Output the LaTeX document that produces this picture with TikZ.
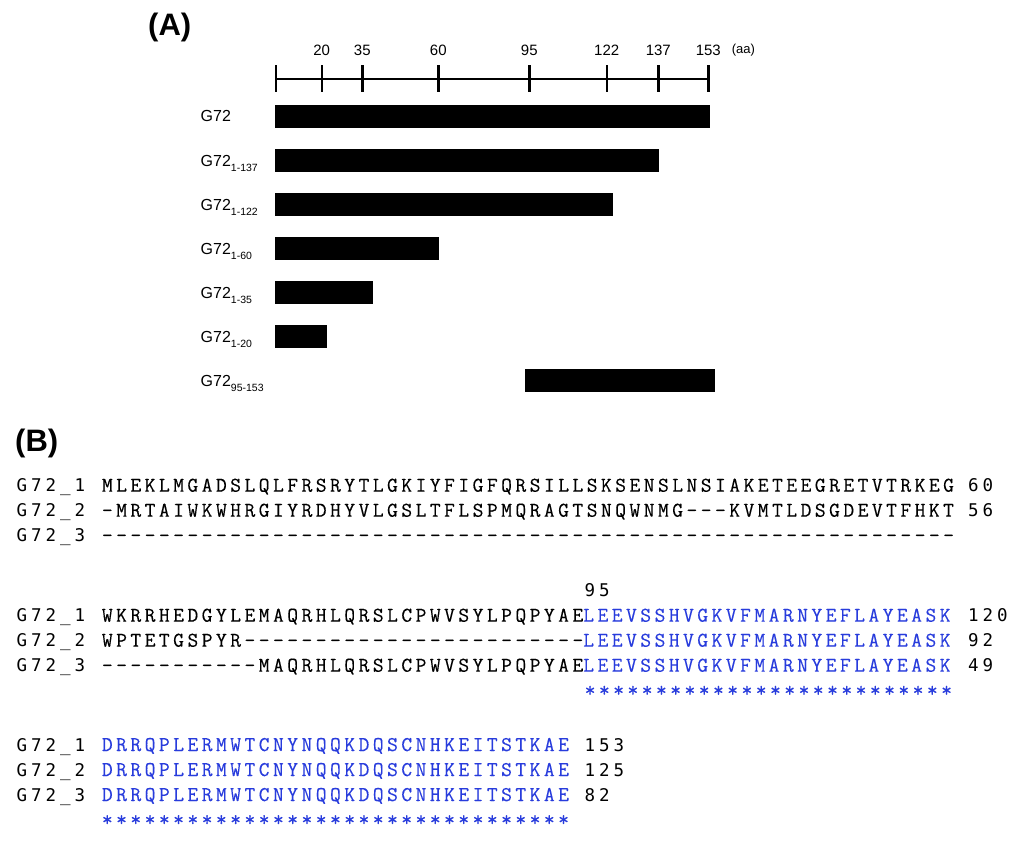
\documentclass[tikz,border=0pt]{standalone}
\usepackage{fontspec}
\setmainfont{Liberation Sans}
\newfontfamily\seqfont[Ligatures=TeXOff,LetterSpace=16.4,FakeBold=0.25]{Latin Modern Mono}
\newfontfamily\tagfont[Ligatures=TeXOff,LetterSpace=22.7]{DejaVu Sans Mono}
\definecolor{seqblue}{RGB}{40,60,220}

\begin{document}
\begin{tikzpicture}[x=1pt,y=-1pt,
    every node/.style={inner sep=0pt,anchor=base west},
    panel/.style={font=\fontsize{31}{31}\selectfont\bfseries},
    ticklabel/.style={anchor=base,font=\fontsize{15}{15}\selectfont},
    barlabel/.style={font=\fontsize{16}{16}\selectfont},
    seq/.style={font=\fontsize{21}{21}\seqfont},
    tag/.style={font=\fontsize{17.5}{17.5}\tagfont},
    cons/.style={text=seqblue},
    axis/.style={line width=2.7pt},
    tickmark/.style={line width=2.4pt}]
  \useasboundingbox (0,0) rectangle (1024,846);

  % (A) domain map
  \node[panel] (A) at (148,35.5) {(A)};
  \draw[axis] (275.7,79) -- (708.3,79);
  \draw[tickmark] (275.7,65) -- (275.7,92);
  \foreach \x/\n in {321.7/20, 362.3/35, 438.3/60, 529.3/95, 606.7/122, 658.3/137, 708.3/153}{
    \draw[tickmark] (\x,65) -- (\x,92);
    \node[ticklabel] (t\n) at (\x,55) {\n};
  }
  \node[font=\fontsize{13}{13}\selectfont] (unit) at (731.7,53) {(aa)};

  \foreach \y/\e/\s [count=\i] in {116/710/{}, 160.5/659/{1-137}, 204.5/613/{1-122},
      248.7/439/{1-60}, 292.5/373/{1-35}, 336.5/327/{1-20}}{
    \fill (275,\y-11.5) rectangle (\e,\y+11.5);
    \node[barlabel] (g\i) at (200.5,\y+5.8) {G72\raisebox{-5pt}{\fontsize{10.5}{10.5}\selectfont\s}};
  }
  \fill (525,369) rectangle (715,392);
  \node[barlabel] (g7) at (200.5,386.3) {G72\raisebox{-5pt}{\fontsize{10.5}{10.5}\selectfont 95-153}};

  % (B) alignment
  \node[panel] (B) at (15,451.8) {(B)};

  \foreach \y in {491.7, 621.7, 751}{
    \node[tag] at (16.5,\y) {G72\_1};
    \node[tag] at (16.5,\y+25) {G72\_2};
    \node[tag] at (16.5,\y+50) {G72\_3};
  }

  \node[seq] (s11) at (101.7,491.7) {MLEKLMGADSLQLFRSRYTLGKIYFIGFQRSILLSKSENSLNSIAKETEEGRETVTRKEG};
  \node[seq] (s12) at (101.7,516.7) {-MRTAIWKWHRGIYRDHYVLGSLTFLSPMQRAGTSNQWNMG---KVMTLDSGDEVTFHKT};
  \node[seq] (s13) at (101.7,541.7) {------------------------------------------------------------};
  \node[tag] (e11) at (967.9,491.7) {60};
  \node[tag] (e12) at (967.9,516.7) {56};

  \node[tag] (p95) at (584.5,596.7) {95};
  \node[seq] (s21) at (101.7,621.7) {WKRRHEDGYLEMAQRHLQRSLCPWVSYLPQPYAE\textcolor{seqblue}{LEEVSSHVGKVFMARNYEFLAYEASK}};
  \node[seq] (s22) at (101.7,646.7) {WPTETGSPYR------------------------\textcolor{seqblue}{LEEVSSHVGKVFMARNYEFLAYEASK}};
  \node[seq] (s23) at (101.7,671.7) {-----------MAQRHLQRSLCPWVSYLPQPYAE\textcolor{seqblue}{LEEVSSHVGKVFMARNYEFLAYEASK}};
  \node[seq,cons] (k2) at (584.5,696.7) {**************************};
  \node[tag] (e21) at (967.9,621.7) {120};
  \node[tag] (e22) at (967.9,646.7) {92};
  \node[tag] (e23) at (967.9,671.7) {49};

  \foreach \y/\n in {751/153, 776/125, 801/82}{
    \node[seq,cons] at (101.7,\y) {DRRQPLERMWTCNYNQQKDQSCNHKEITSTKAE};
    \node[tag] at (584.5,\y) {\n};
  }
  \node[seq,cons] (k3) at (101.7,826) {*********************************};
\end{tikzpicture}
\end{document}
